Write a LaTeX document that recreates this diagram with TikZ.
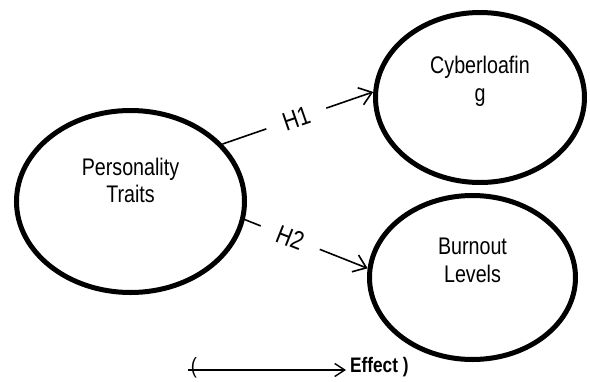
\documentclass[tikz,border=0pt]{standalone}
\usepackage{fontspec}
\setmainfont{Liberation Sans}[FakeStretch=0.82]
\usetikzlibrary{shapes.geometric,arrows.meta}
\tikzset{
    var-ellipse/.style = {draw, ellipse, line width=5pt, inner sep=0pt},
    var-text/.style = {align=center, font=\fontsize{24}{27.5}\selectfont},
    hyp-link/.style = {line width=1.6pt, -{Straight Barb[length=12pt,width=18pt]}},
    hyp-label/.style = {sloped, fill=white, inner xsep=18pt, inner ysep=2pt, font=\fontsize{26}{28}\selectfont},
    legend-arrow/.style = {line width=1.4pt, -{Straight Barb[length=10pt,width=13pt]}},
}

\begin{document}
\begin{tikzpicture}[x=1pt, y=-1pt]
\useasboundingbox (0,0) rectangle (590,381);
% the three variables
\node [var-ellipse, minimum width=228pt, minimum height=182pt] (traits) at (130.5,201.5) {};
\node [var-ellipse, minimum width=209pt, minimum height=170pt] (cyber) at (480,97.5) {};
\node [var-ellipse, minimum width=206pt, minimum height=164pt] (burnout) at (472.5,277.5) {};
\node [var-text] (traits-text) at ([yshift=21pt]traits.center) {Personality\\Traits};
\node [var-text] (cyber-text) at ([yshift=16pt]cyber.center) {Cyberloafin\\g};
\node [var-text] (burnout-text) at ([yshift=17pt]burnout.center) {Burnout\\Levels};
% hypotheses
\draw [hyp-link] (traits.32.6) -- node[hyp-label, pos=0.49] {H1} (cyber.177.6);
\draw [hyp-link] (traits.-9.2) -- node[hyp-label, pos=0.37] {H2} (burnout.175);
% legend
\coordinate (effect-start) at (188,370);
\node [font=\fontsize{22}{24}\selectfont, inner sep=0pt] (open-paren) at (194,367.5) {(};
\node [font=\bfseries\fontsize{21}{24}\selectfont, anchor=west, inner sep=4pt] (effect) at (346,367.5) {Effect )};
\draw [legend-arrow] (effect-start) -- (effect-start -| effect.west);
\end{tikzpicture}
\end{document}
